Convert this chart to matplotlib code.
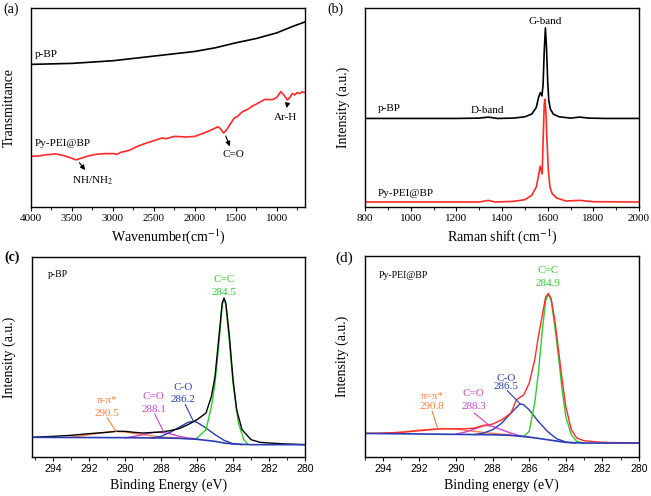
import numpy as np
import matplotlib
matplotlib.use("Agg")
import matplotlib.pyplot as plt

plt.rcParams['font.family'] = ['Liberation Serif', 'DejaVu Serif']
plt.rcParams['mathtext.fontset'] = 'stix'

# (a) FTIR
ftir_x_bp = [4000, 3500, 3000, 2500, 2000, 1750, 1500, 1250, 1000, 900, 800, 655]
ftir_y_bp = [430, 433, 441, 455, 469, 480, 495, 508, 525, 535, 545, 558]
ftir_x_pei = [4000, 3900, 3800, 3700, 3600, 3500, 3450, 3400, 3300, 3200, 3100, 3000,
              2950, 2900, 2800, 2700, 2600, 2500, 2400, 2350, 2250, 2100, 2000, 1900,
              1800, 1720, 1690, 1650, 1620, 1580, 1520, 1480, 1420, 1350, 1300, 1250,
              1200, 1150, 1050, 1000, 950, 910, 870, 840, 810, 780, 750, 720, 690, 655]
ftir_y_pei = [153, 154, 158, 160, 155, 147, 142, 146, 154, 159, 161, 161,
              159, 165, 171, 183, 192, 200, 208, 206, 213, 211, 213, 222,
              232, 242, 237, 223, 230, 245, 268, 273, 287, 295, 304, 310,
              317, 324, 324, 330, 348, 337, 323, 330, 342, 338, 345, 342, 347, 345]

# (b) Raman
raman_x_bp = [800, 1000, 1200, 1300, 1340, 1380, 1450, 1500, 1530, 1550, 1560, 1568,
              1575, 1580, 1585, 1590, 1595, 1600, 1605, 1612, 1625, 1650, 1700, 1740,
              1780, 1850, 2000]
raman_y_bp = [267, 267, 267, 268, 271, 267, 268, 272, 280, 300, 330, 345,
              335, 370, 470, 540, 480, 380, 320, 295, 280, 272, 268, 271,
              268, 267, 267]
raman_x_pei = [800, 1300, 1340, 1370, 1450, 1500, 1530, 1550, 1560, 1567, 1572, 1576,
               1580, 1585, 1588, 1592, 1597, 1603, 1610, 1620, 1640, 1680, 1740, 1800, 2000]
raman_y_pei = [15, 15, 20, 15, 17, 22, 35, 60, 95, 123, 110, 100,
               200, 310, 325, 290, 200, 110, 60, 40, 27, 18, 20, 16, 15]

# (c) XPS p-BP
c_base_x = [295.2, 290, 288, 287, 286, 285, 284.5, 284, 283, 280]
c_base_y = [59, 58, 57, 56, 53, 47, 42, 39, 37, 37]
c_env_x = [295.2, 294, 293, 292, 291, 290.5, 290, 289.5, 289, 288, 287.5, 287, 286.5,
           286, 285.5, 285.2, 285, 284.8, 284.6, 284.5, 284.4, 284.2, 284, 283.8,
           283.5, 283, 282.5, 282, 281, 280]
c_env_y = [59, 62, 65, 70, 74, 77, 77, 74, 72, 75, 79, 85, 97,
           112, 132, 182, 242, 352, 462, 477, 462, 362, 232, 142,
           82, 52, 44, 42, 39, 37]
c_cc_x = [286, 285.5, 285.2, 285, 284.8, 284.6, 284.5, 284.4, 284.2, 284, 283.7, 283.4, 283.2]
c_cc_y = [57, 82, 152, 222, 332, 457, 474, 457, 342, 222, 102, 52, 40]
c_co_x = [288.5, 288, 287.5, 287, 286.5, 286.2, 286, 285.5, 285, 284.5, 284, 283.5]
c_co_y = [57, 62, 74, 89, 104, 107, 104, 87, 67, 50, 40, 37]
c_c2o_x = [290, 289, 288.5, 288.1, 287.5, 287, 286.5, 286]
c_c2o_y = [57, 67, 73, 75, 70, 62, 57, 55]
c_pi_x = [293, 292, 291, 290.5, 290, 289, 288, 287]
c_pi_y = [59, 67, 75, 77, 75, 67, 60, 57]

# (d) XPS Py-PEI@BP
d_base_x = [295, 288, 287, 286, 285, 284, 283, 280]
d_base_y = [71, 67, 65, 60, 52, 44, 42, 42]
d_env_x = [295, 294, 293, 292, 291, 290, 289.5, 289, 288.5, 288, 287.5, 287, 286.7,
           286.3, 286, 285.7, 285.5, 285.3, 285.1, 284.95, 284.8, 284.6, 284.4, 284.2,
           284, 283.7, 283.4, 283, 282, 281, 280]
d_env_y = [71, 72, 74, 79, 84, 85, 85, 87, 95, 99, 112, 132, 172,
           187, 222, 292, 362, 422, 482, 492, 477, 412, 322, 232,
           152, 82, 57, 49, 44, 43, 42]
d_cc_x = [286.3, 286, 285.7, 285.5, 285.3, 285.1, 284.95, 284.8, 284.6, 284.4, 284.2, 284,
          283.7, 283.4, 283]
d_cc_y = [62, 77, 162, 252, 372, 472, 490, 472, 392, 302, 202, 122, 67, 47, 42]
d_co_x = [289, 288.5, 288, 287.5, 287, 286.5, 286.3, 286, 285.5, 285, 284.5, 284, 283.5]
d_co_y = [67, 72, 82, 102, 132, 160, 157, 142, 107, 77, 55, 45, 42]
d_c2o_x = [290, 289.5, 289, 288.5, 288.3, 288, 287.5, 287, 286.5, 286]
d_c2o_y = [69, 75, 84, 94, 95, 92, 82, 72, 64, 60]
d_pi_x = [294, 293, 292, 291, 290.8, 290, 289, 288, 287]
d_pi_y = [71, 75, 81, 85, 86, 84, 77, 71, 67]

RED = '#ff2a2a'
GREEN = '#2ecc2e'
BLUE = '#2a3cb4'
MAGENTA = '#cc44cc'
ORANGE = '#ff8040'

fig = plt.figure(figsize=(6.51, 4.96), dpi=100)
W, H = 651, 496

def add_ax(l, t, r, b):
    return fig.add_axes([l / W, 1 - b / H, (r - l) / W, (b - t) / H])

ax_a = add_ax(31, 8, 305, 207)
ax_b = add_ax(365, 8, 639, 207)
ax_c = add_ax(31.5, 257, 305, 457)
ax_d = add_ax(364.5, 256, 639, 457)

for ax in (ax_a, ax_b, ax_c, ax_d):
    ax.set_yticks([])
    for s in ax.spines.values():
        s.set_linewidth(1.0)
    ax.tick_params(axis='x', direction='out', length=3, width=0.8, pad=2)
    ax.tick_params(axis='x', which='minor', direction='out', length=2, width=0.6)

# (a)
ax_a.plot(ftir_x_bp, ftir_y_bp, color='black', lw=1.2)
ax_a.plot(ftir_x_pei, ftir_y_pei, color=RED, lw=1.2)
ax_a.set_xlim(4000, 655)
ax_a.set_ylim(0, 600)
ax_a.set_xticks(np.arange(4000, 999, -500))
ax_a.set_xticks(np.arange(3750, 700, -500), minor=True)
ax_a.tick_params(axis='x', labelsize=8)
ax_a.set_xlabel('Wavenumber(cm$^{-1}$)', fontsize=10, labelpad=3)
ax_a.set_ylabel('Transmittance', fontsize=10, labelpad=11)
ax_a.text(3950, 460, 'p-BP', fontsize=8, ha='left', va='center')
ax_a.text(3950, 190, 'Py-PEI@BP', fontsize=8, ha='left', va='center')
ax_a.annotate('', xy=(3317, 105), xytext=(3431, 140),
              arrowprops=dict(arrowstyle='-|>', color='black', lw=0.8, mutation_scale=7))
ax_a.text(3248, 78, 'NH/NH$_2$', fontsize=8, ha='center', va='center')
ax_a.annotate('', xy=(1561, 175), xytext=(1634, 222),
              arrowprops=dict(arrowstyle='-|>', color='black', lw=0.8, mutation_scale=7))
ax_a.text(1528, 158, 'C=O', fontsize=8, ha='center', va='center')
ax_a.annotate('', xy=(890, 290), xytext=(862, 320),
              arrowprops=dict(arrowstyle='-|>', color='black', lw=0.8, mutation_scale=7))
ax_a.text(890, 270, 'Ar-H', fontsize=8, ha='center', va='center')

# (b)
ax_b.plot(raman_x_bp, raman_y_bp, color='black', lw=1.2)
ax_b.plot(raman_x_pei, raman_y_pei, color=RED, lw=1.2)
ax_b.set_xlim(800, 2000)
ax_b.set_ylim(0, 600)
ax_b.set_xticks(np.arange(800, 2001, 200))
ax_b.set_xticks(np.arange(900, 2000, 200), minor=True)
ax_b.tick_params(axis='x', labelsize=8)
ax_b.set_xlabel('Raman shift (cm$^{-1}$)', fontsize=10, labelpad=3)
ax_b.set_ylabel('Intensity (a.u.)', fontsize=10, labelpad=11)
ax_b.text(1587, 560, 'G-band', fontsize=8, ha='center', va='center')
ax_b.text(1336, 290, 'D-band', fontsize=8, ha='center', va='center')
ax_b.text(855, 298, 'p-BP', fontsize=8, ha='left', va='center')
ax_b.text(855, 42, 'Py-PEI@BP', fontsize=8, ha='left', va='center')

# (c)
ax_c.plot(c_pi_x, c_pi_y, color=ORANGE, lw=1.0)
ax_c.plot(c_c2o_x, c_c2o_y, color=MAGENTA, lw=1.0)
ax_c.plot(c_co_x, c_co_y, color=BLUE, lw=1.0)
ax_c.plot(c_cc_x, c_cc_y, color=GREEN, lw=1.0)
ax_c.plot(c_env_x, c_env_y, color='black', lw=1.0)
ax_c.plot(c_base_x, c_base_y, color=BLUE, lw=1.2)
ax_c.set_xlim(295.2, 280)
ax_c.set_ylim(0, 600)
ax_c.set_xlabel('Binding Energy (eV)', fontsize=10, labelpad=3)
ax_c.set_ylabel('Intensity (a.u.)', fontsize=10, labelpad=11)
ax_c.text(294.3, 547, 'p-BP', fontsize=7, ha='left', va='center')
ax_c.text(284.52, 532, 'C=C', fontsize=8, color=GREEN, ha='center', va='center')
ax_c.text(284.52, 494, '284.5', fontsize=8, color=GREEN, ha='center', va='center')
ax_c.text(286.77, 210, 'C-O', fontsize=8, color=BLUE, ha='center', va='center')
ax_c.text(286.77, 172, '286.2', fontsize=8, color=BLUE, ha='center', va='center')
ax_c.text(288.4, 182, 'C=O', fontsize=8, color=MAGENTA, ha='center', va='center')
ax_c.text(288.4, 144, '288.1', fontsize=8, color=MAGENTA, ha='center', va='center')
ax_c.text(290.99, 169, 'π-π*', fontsize=8, color=ORANGE, ha='center', va='center')
ax_c.text(290.99, 132, '290.5', fontsize=8, color=ORANGE, ha='center', va='center')
ax_c.plot([290.99, 290.5], [117, 77], color=ORANGE, lw=0.8)
ax_c.plot([288.35, 287.85], [129, 75], color=MAGENTA, lw=0.8)
ax_c.plot([286.65, 286.2], [157, 107], color=BLUE, lw=0.8)

# (d)
ax_d.plot(d_pi_x, d_pi_y, color=ORANGE, lw=1.0)
ax_d.plot(d_c2o_x, d_c2o_y, color=MAGENTA, lw=1.0)
ax_d.plot(d_co_x, d_co_y, color=BLUE, lw=1.0)
ax_d.plot(d_cc_x, d_cc_y, color=GREEN, lw=1.0)
ax_d.plot(d_env_x, d_env_y, color=RED, lw=1.0)
ax_d.plot(d_base_x, d_base_y, color=BLUE, lw=1.2)
ax_d.set_xlim(295, 280)
ax_d.set_ylim(0, 605)
ax_d.set_xlabel('Binding energy (eV)', fontsize=10, labelpad=3)
ax_d.set_ylabel('Intensity (a.u.)', fontsize=10, labelpad=11)
ax_d.text(294.2, 547, 'Py-PEI@BP', fontsize=7, ha='left', va='center')
ax_d.text(284.98, 560, 'C=C', fontsize=8, color=GREEN, ha='center', va='center')
ax_d.text(284.98, 522, '284.9', fontsize=8, color=GREEN, ha='center', va='center')
ax_d.text(287.26, 237, 'C-O', fontsize=8, color=BLUE, ha='center', va='center')
ax_d.text(287.26, 212, '286.5', fontsize=8, color=BLUE, ha='center', va='center')
ax_d.text(289.04, 190, 'C=O', fontsize=8, color=MAGENTA, ha='center', va='center')
ax_d.text(289.04, 152, '288.3', fontsize=8, color=MAGENTA, ha='center', va='center')
ax_d.text(291.3, 182, 'π=π*', fontsize=8, color=ORANGE, ha='center', va='center')
ax_d.text(291.3, 152, '290.8', fontsize=8, color=ORANGE, ha='center', va='center')
ax_d.plot([291.3, 291.0], [137, 86], color=ORANGE, lw=0.8)
ax_d.plot([289.0, 288.2], [132, 96], color=MAGENTA, lw=0.8)
ax_d.plot([287.2, 286.5], [200, 160], color=BLUE, lw=0.8)

for ax in (ax_c, ax_d):
    ax.set_xticks(np.arange(294, 279, -2))
    ax.set_xticks(np.arange(295, 280, -2), minor=True)
    for lab in ax.get_xticklabels():
        lab.set_family(['Liberation Sans', 'DejaVu Sans'])
        lab.set_fontsize(7.5)

fig.text(3 / W, 1 - 9 / H, '(a)', fontsize=10, ha='left', va='center')
fig.text(327 / W, 1 - 9 / H, '(b)', fontsize=10, ha='left', va='center')
fig.text(4 / W, 1 - 257 / H, '(c)', fontsize=10, ha='left', va='center', weight='bold')
fig.text(335 / W, 1 - 258 / H, '(d)', fontsize=11, ha='left', va='center')

fig.savefig('out.png', dpi=100)
